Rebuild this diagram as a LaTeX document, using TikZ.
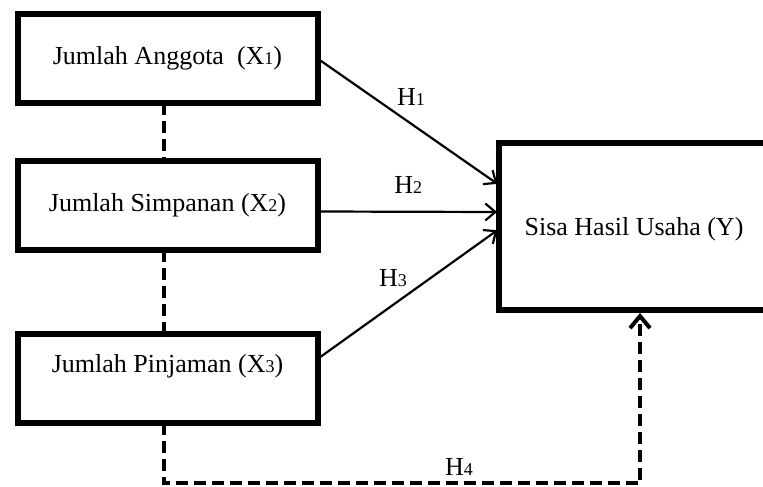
\documentclass[tikz,border=0pt]{standalone}
\usepackage{fontspec}
\setmainfont{Liberation Serif}
\usetikzlibrary{arrows.meta, positioning}
\newcommand{\idx}[1]{{\fontsize{9}{9}\selectfont #1}}

\begin{document}
\begin{tikzpicture}[
    x=0.5pt, y=-0.5pt,
    var/.style={draw, line width=3pt, minimum width=150pt, minimum height=44.5pt, outer sep=0pt, inner sep=0pt, font=\fontsize{13}{15}\selectfont, align=center},
    arrow/.style={-{Straight Barb[length=5pt, width=8.5pt]}, line width=1.1pt, shorten >=1pt},
    link/.style={line width=2pt, dash pattern=on 6pt off 3pt},
    hyp/.style={font=\fontsize{13}{15}\selectfont, inner sep=2pt}
]
    \useasboundingbox (0,0) rectangle (763,486);

    % Nodes - independent variables
    \node[var] (anggota) at (167.5,58.5) {Jumlah Anggota~ (X\idx{1})};
    \node[var, below=29pt of anggota] (simpanan) {Jumlah Simpanan (X\idx{2})};
    \node[var, below=42pt of simpanan, text depth=15pt] (pinjaman) {Jumlah Pinjaman (X\idx{3})};

    % Node - dependent variable
    \node[var, minimum width=135pt, minimum height=83.5pt, text height=12pt] (shu) at (634,226.5) {Sisa Hasil Usaha (Y)};

    % Arrows
    \draw[arrow] (anggota.east) -- ([yshift=20.75pt]shu.west) node[hyp, pos=0.41, above right] {H\idx{1}};
    \draw[arrow] ([yshift=-3pt]simpanan.east) -- ([yshift=7.25pt]shu.west) node[hyp, midway, above=6.5pt] {H\idx{2}};
    \draw[arrow] ([yshift=9.75pt]pinjaman.east) -- ([yshift=-1.25pt]shu.west) node[hyp, pos=0.52, above left] {H\idx{3}};

    % Dashed links
    \draw[link] ([xshift=-2pt]anggota.south) -- ++(0,-29pt);
    \draw[link] ([xshift=-2pt]simpanan.south) -- ++(0,-42pt);
    \draw[link, -{Straight Barb[length=6pt, width=10pt]}, shorten >=1.5pt] ([xshift=-2pt]pinjaman.south) -- ++(0,-30pt) -| ([xshift=3pt]shu.south) node[hyp, pos=0.31, above=1pt] {H\idx{4}};
\end{tikzpicture}
\end{document}
